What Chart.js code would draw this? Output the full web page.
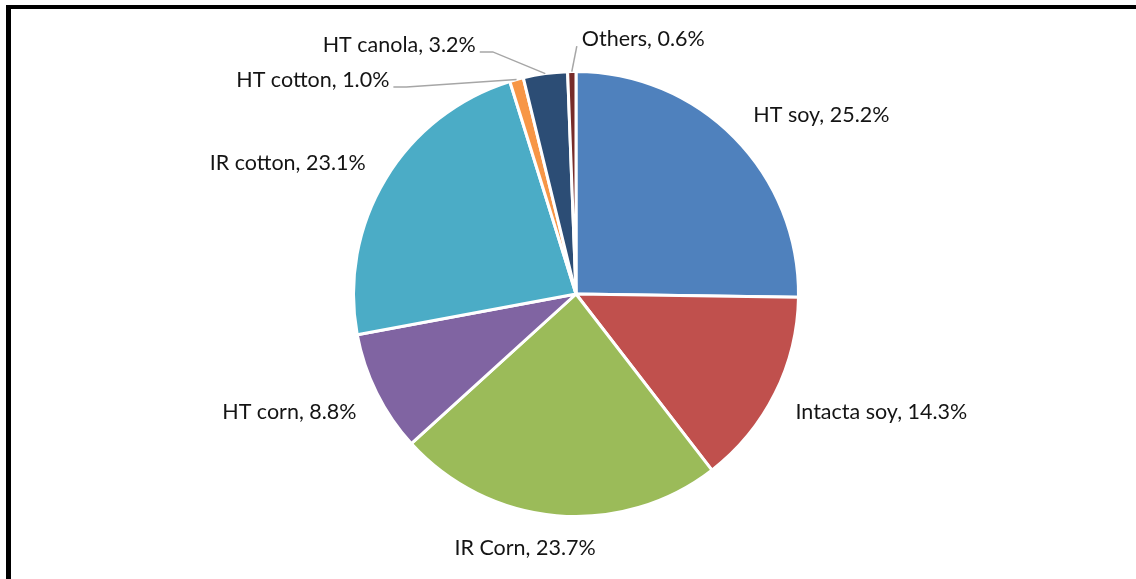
<!DOCTYPE html>
<html>
<head>
<meta charset="utf-8">
<script src="https://cdn.jsdelivr.net/npm/chart.js@4.4.0/dist/chart.umd.min.js"></script>
<style>
  html, body { margin: 0; padding: 0; background: #fff; overflow: hidden; }
  #frame { position: absolute; left: 6px; top: 5px; width: 1300px; height: 800px;
           border-left: 5px solid #000; border-top: 4px solid #000; }
  #chart { position: absolute; left: 0; top: 0; }
</style>
</head>
<body>
<div id="frame"></div>
<canvas id="chart" width="1136" height="579"></canvas>
<script>
const crops = ["HT soy", "Intacta soy", "IR Corn", "HT corn", "IR cotton", "HT cotton", "HT canola", "Others"];
const shares = [25.2, 14.3, 23.7, 8.8, 23.1, 1.0, 3.2, 0.6];
const colors = ["#4F81BD", "#C0504D", "#9BBB59", "#8064A2", "#4BACC6", "#F79646", "#2C4D75", "#772C2A"];

// where each label sits: angle from top (deg, clockwise), distance in radii, text alignment
const labelPos = [
  { a: 44.5, d: 1.137, align: "left" },
  { a: 117.9, d: 1.116, align: "left" },
  { a: 191.4, d: 1.158, align: "center" },
  { a: 242.1, d: 1.116, align: "right" },
  { a: 302.2, d: 1.117, align: "right" },
  { a: 319.1, d: 1.281, align: "right", leader: 13 },
  { a: 338.2, d: 1.213, align: "right", leader: 13 },
  { a: 1.3, d: 1.153, align: "left", leader: 0 }
];

const pieLabels = {
  id: "pieLabels",
  afterDatasetsDraw(chart) {
    const ctx = chart.ctx;
    const arcs = chart.getDatasetMeta(0).data;
    ctx.save();
    ctx.font = "21.5px Lato";
    ctx.fillStyle = "#141414";
    ctx.textBaseline = "middle";
    arcs.forEach((arc, i) => {
      const { x, y, outerRadius, startAngle, endAngle } = arc.getProps(["x", "y", "outerRadius", "startAngle", "endAngle"], true);
      const p = labelPos[i];
      const t = (p.a - 90) * Math.PI / 180;
      const lx = x + Math.cos(t) * outerRadius * p.d;
      const ly = y + Math.sin(t) * outerRadius * p.d + 1.5;
      const text = crops[i] + ", " + shares[i].toFixed(1) + "%";
      ctx.textAlign = p.align;
      ctx.fillText(text, lx, ly);

      if (p.leader !== undefined) {
        const mid = (startAngle + endAngle) / 2;
        const ex = x + Math.cos(mid) * outerRadius;
        const ey = y + Math.sin(mid) * outerRadius;
        const sx = p.align === "right" ? lx + 4 : lx - 5;
        const sy = ly + 7;
        const kx = p.align === "right" ? sx + p.leader : sx - p.leader;
        ctx.beginPath();
        ctx.moveTo(sx, sy);
        ctx.lineTo(kx, sy);
        ctx.lineTo(ex, ey);
        ctx.strokeStyle = "#a6a6a6";
        ctx.lineWidth = 1.5;
        ctx.stroke();
      }
    });
    ctx.restore();
  }
};

new Chart(document.getElementById("chart"), {
  type: "pie",
  data: {
    labels: crops,
    datasets: [{
      data: shares,
      backgroundColor: colors,
      borderColor: "#ffffff",
      borderWidth: 3
    }]
  },
  options: {
    responsive: false,
    animation: false,
    layout: { padding: { top: 70, bottom: 61, left: 16, right: 0 } },
    plugins: {
      legend: { display: false },
      tooltip: { enabled: false }
    }
  },
  plugins: [pieLabels]
});
</script>
</body>
</html>
